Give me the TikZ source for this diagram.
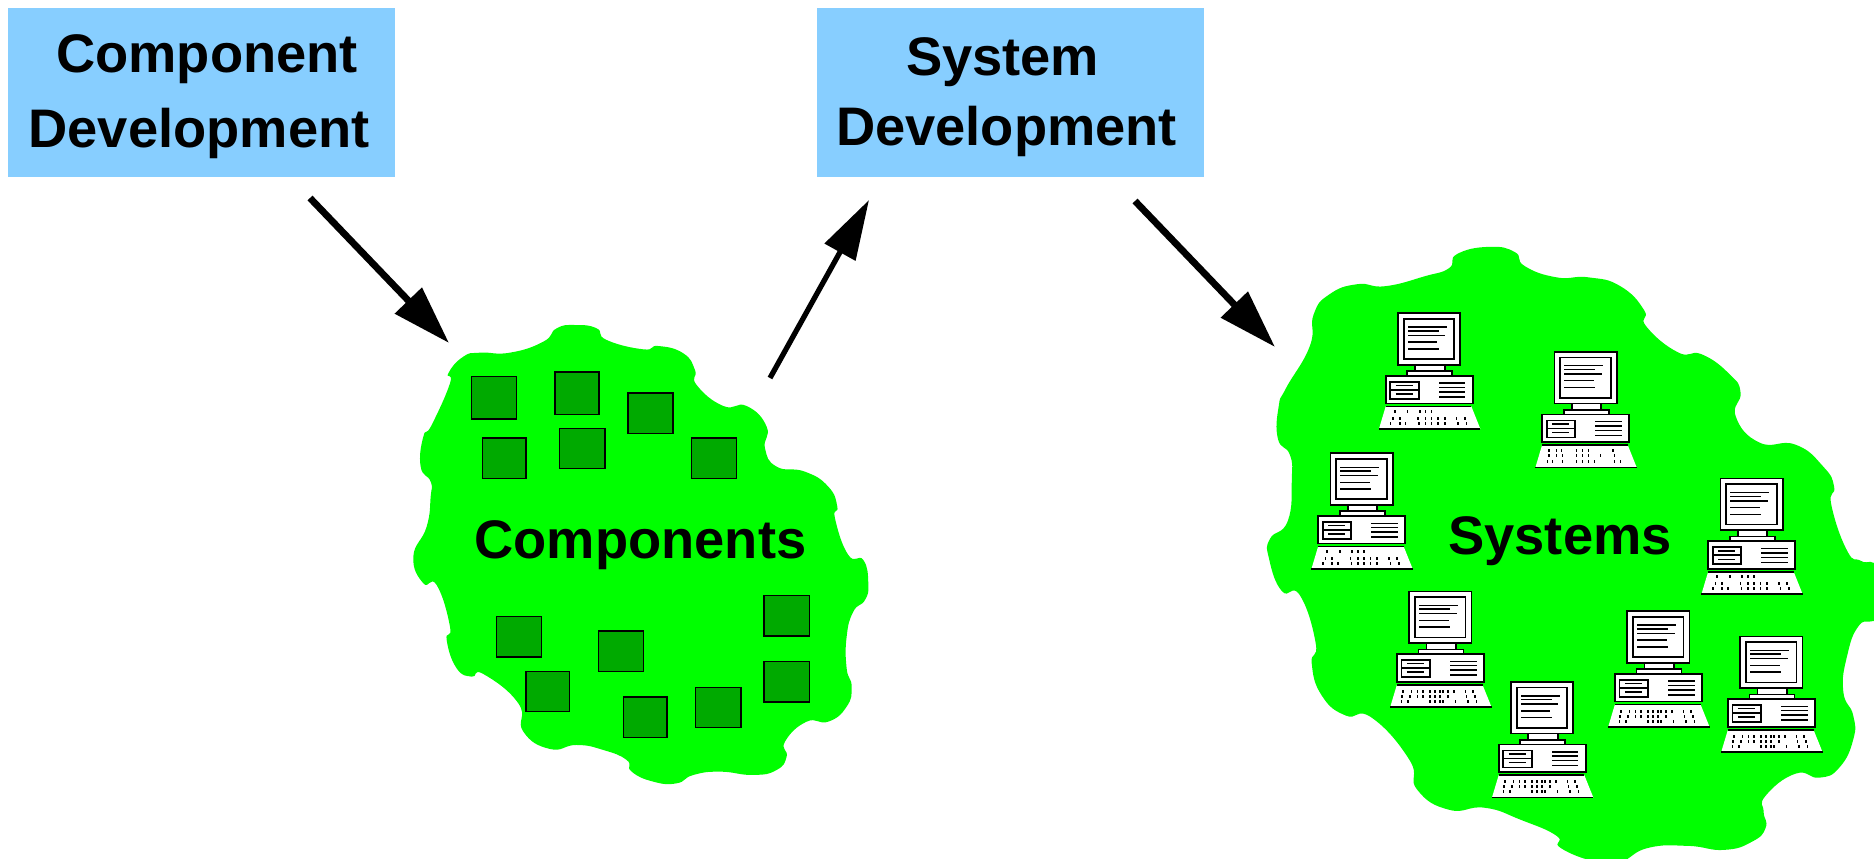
\documentclass[tikz,border=0pt]{standalone}
\usepackage{fontspec}
\setmainfont{Liberation Sans}
\usetikzlibrary{arrows.meta}
\definecolor{boxblue}{RGB}{135,206,255}
\definecolor{blobgreen}{RGB}{0,255,0}
\definecolor{chipgreen}{RGB}{0,170,0}
\tikzset{
  labelfont/.style={font=\fontsize{30.9}{42.7}\selectfont\bfseries},
  boxnode/.style={fill=boxblue,draw=none,inner sep=0pt,align=center,minimum width=386*0.5692pt,minimum height=169*0.5692pt,labelfont},
  blob/.style={fill=blobgreen,draw=none},
  chip/.style={fill=chipgreen,draw=black,line width=0.6pt},
  biglabel/.style={anchor=base,inner sep=0pt,labelfont},
  arrowA/.style={line width=3.9pt,-{Triangle[length=33.5pt,width=20.5pt]}},
  arrowB/.style={line width=3pt,-{Triangle[length=34pt,width=19.5pt]}},
  pcline/.style={draw=black,line width=1pt},
  pcthin/.style={draw=black,line width=0.85pt},
  pcbody/.style={fill=white,draw=black,line width=1pt},
}
\newcommand{\kbdrow}[2]{\foreach \kx in {#2}{\fill[black] (\kx-0.8,#1-1.5) rectangle (\kx+0.8,#1+1.5);}}
\newcommand{\kbdA}{\kbdrow{98.3}{-3.3,9.3,21.7,27.3,33.3}\kbdrow{105}{-5,1.7,20,27.3,33.3,40,46.7,58.3,66.7}\kbdrow{110}{-7.7,1.7,7.3,21,27.3,33.3,40,46.7,60,68.3}}
\newcommand{\kbdB}{\kbdrow{100}{-6,2.3,8.3,14,20.7,25.7,30.7,34,39,45,56.3,64}\kbdrow{105}{-7,0.7,8.3,14,20.7,25.7,30.7,39,57.3,65.7}\kbdrow{110}{-7.7,-1,20.7,25.7,30.7,34,46.3,59,67.3}}
\newcommand{\kbdC}{\kbdrow{98.3}{-5.2,2,7.2,22,28,34,58.7}\kbdrow{104}{-5.2,2,8,22,28,34,46,60}\kbdrow{110}{-6.8,-2,8,22,28,34,40,60,66}}
\newcommand{\computer}[3]{%
\begin{scope}[shift={(#1,#2)}]
  \draw[pcbody] (0,0) rectangle (62.3,51.7);
  \draw[pcbody] (5.7,5.7) rectangle (56.3,46);
  \foreach \ly/\lx in {14/49,17.7/41,22.3/47.3,29/39.3,35.7/41}{\draw[pcthin] (10,\ly) -- (\lx,\ly);}
  \draw[pcbody] (17.3,51.7) rectangle (46.7,58);
  \draw[pcbody] (9.3,58) rectangle (54.3,62.7);
  \draw[pcbody] (-12.3,62.7) rectangle (74.7,90.3);
  \draw[pcbody] (-7.7,68.7) rectangle (20.7,85.7);
  \draw[pcline] (-7.7,76.7) -- (20.7,76.7);
  \draw[pcthin] (-2.3,72.3) -- (15,72.3);
  \draw[pcthin] (-2.3,80.7) -- (15,80.7);
  \foreach \vy in {70,74.3,78.7,83.7}{\draw[pcthin] (41,\vy) -- (67.3,\vy);}
  \fill[white] (-12.3,93.3) -- (73.3,93.3) -- (82.3,115.7) -- (-19,115.7) -- cycle;
  \draw[pcline] (-12.3,93.3) -- (73.3,93.3);
  \draw[pcline] (-19,115.7) -- (82.3,115.7);
  #3
\end{scope}}
\begin{document}
\begin{tikzpicture}[x=0.02cm,y=-0.02cm]
\useasboundingbox (0,0) rectangle (1874,859);
\clip (0,0) rectangle (1874,859);
% boxes
\node[boxnode] (cd) at (201.5,92.5) {\hspace*{6.3pt}\rule{0pt}{26.8pt}Component\\Development\hspace*{2.8pt}};
\node[boxnode] (sd) at (1010.5,92.5) {\rule{0pt}{26.8pt}System\hspace*{9pt}\\[-2.9pt]Development\hspace*{4.5pt}};
% blob 1
\begin{scope}[shift={(400,310)},x=0.006667cm,y=-0.006667cm]
\fill[blob] plot[smooth cycle,tension=0.85] coordinates {
(525,45)(590,55)(620,90)(730,118)(775,108)(850,130)(885,180)(890,225)(970,288)(1040,288)(1100,350)(1095,415)(1130,470)(1215,485)(1285,530)(1312,590)(1305,625)(1345,735)(1390,750)(1405,820)(1395,870)(1360,905)(1340,980)(1340,1075)(1355,1130)(1340,1190)(1285,1235)(1220,1235)(1155,1295)(1160,1340)(1130,1380)(1060,1395)(960,1385)(880,1395)(830,1420)(760,1415)(695,1385)(680,1350)(610,1320)(530,1305)(450,1317)(370,1265)(355,1180)(250,1092)(215,1100)(170,1075)(140,990)(150,950)(110,825)(70,820)(40,740)(80,650)(92,560)(92,515)(62,470)(70,380)(95,345)(150,220)(145,190)(190,140)(240,128)(330,128)(430,95)(470,55)};
\foreach \xa/\ya/\xb/\yb in {215/200/350/327,465/186/597/313,684/249/819/371,247/384/378/506,479/355/615/476,874/384/1010/506,289/919/425/1041,595/963/731/1085,1092/857/1228/978,1092/1055/1228/1176,378/1084/509/1205,670/1161/801/1282,887/1132/1023/1253}
  {\draw[chip] (\xa,\ya) rectangle (\xb,\yb);}
\end{scope}
% blob 2
\begin{scope}[shift={(1250,230)},x=0.007959cm,y=-0.008032cm]
\fill[blob] plot[smooth cycle,tension=0.85] coordinates {
(600,42)(665,55)(690,90)(770,118)(850,118)(930,140)(990,200)(995,240)(1075,305)(1135,310)(1205,360)(1232,405)(1220,465)(1280,530)(1370,535)(1440,590)(1467,640)(1460,685)(1500,800)(1535,825)(1575,845)(1575,960)(1530,985)(1500,1060)(1490,1150)(1515,1210)(1515,1270)(1480,1340)(1430,1365)(1370,1355)(1295,1410)(1290,1450)(1295,1490)(1260,1525)(1190,1545)(1100,1535)(1000,1540)(930,1575)(870,1575)(780,1540)(770,1510)(680,1470)(590,1440)(500,1445)(420,1395)(400,1320)(305,1215)(240,1210)(180,1160)(155,1080)(165,1030)(125,910)(80,900)(48,820)(50,770)(95,725)(105,620)(100,560)(70,520)(72,440)(90,395)(150,290)(160,210)(200,160)(270,135)(340,140)(440,115)(500,95)(520,60)};
\end{scope}
% computers
\computer{1398}{313.1}{\kbdA}
\computer{1554.4}{351.7}{\kbdC}
\computer{1330.4}{453.3}{\kbdA}
\computer{1720.4}{478.6}{\kbdA}
\computer{1409.2}{591.4}{\kbdB}
\computer{1627.2}{611.1}{\kbdB}
\computer{1740.2}{636.4}{\kbdB}
\computer{1511}{681.8}{\kbdB}
% labels
\node[biglabel] (components) at (640.5,558) {Components};
\node[biglabel] (systems) at (1560,554.5) {Systems};
% arrows
\coordinate (a1s) at (310,198);
\coordinate (a1e) at (449,343);
\coordinate (a2s) at (770,378);
\coordinate (a2e) at (869,200);
\coordinate (a3s) at (1135,201);
\coordinate (a3e) at (1275,347);
\draw[arrowA] (a1s) -- (a1e);
\draw[arrowB] (a2s) -- (a2e);
\draw[arrowA] (a3s) -- (a3e);
\end{tikzpicture}
\end{document}
